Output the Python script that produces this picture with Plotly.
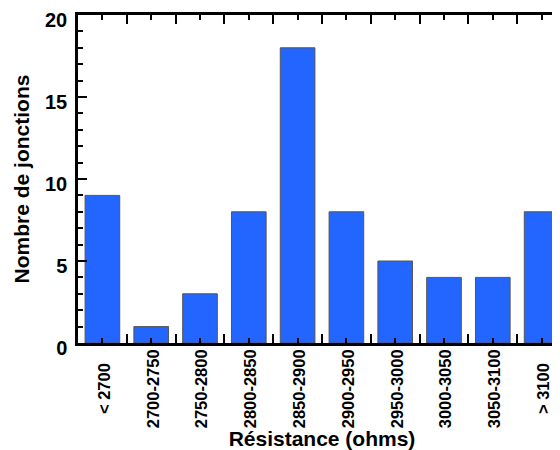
import plotly.graph_objects as go

categories = ["< 2700", "2700-2750", "2750-2800", "2800-2850", "2850-2900",
              "2900-2950", "2950-3000", "3000-3050", "3050-3100", "> 3100"]
counts = [9, 1, 3, 8, 18, 8, 5, 4, 4, 8]
y_ticks = [0, 5, 10, 15, 20]

x_pos = list(range(len(categories)))
boundaries = [i - 0.5 for i in range(len(categories) + 1)]

# centre the shorter rotated labels like the reference (pad with no-break spaces)
max_len = max(len(c) for c in categories)
tick_text = [c + "\u00a0" * (max_len - len(c)) for c in categories]

FONT = "Liberation Sans, Arial, sans-serif"

fig = go.Figure()
fig.add_trace(go.Bar(
    x=x_pos, y=counts, width=0.71,
    marker=dict(color="#2266FF", line=dict(color="#555555", width=1)),
))

# page body adds an 8px offset, so margins are reduced by 8px
fig.update_layout(
    width=558, height=442,
    margin=dict(l=70, r=0, t=7, b=107),
    paper_bgcolor="white", plot_bgcolor="white",
    showlegend=False,
    font=dict(family=FONT, color="black"),
)
fig.update_xaxes(
    automargin=False,
    range=[-0.5, 9.5],
    tickmode="array", tickvals=x_pos, ticktext=tick_text,
    tickangle=-90,
    tickfont=dict(size=16.5, family=FONT, weight="bold"),
    ticks="inside", ticklen=5, tickwidth=2, tickcolor="black",
    ticklabelstandoff=-3, ticklabelshift=2,
    minor=dict(tickmode="array", tickvals=boundaries, ticks="inside",
               ticklen=9, tickwidth=2, tickcolor="black"),
    showline=True, linewidth=2.5, linecolor="black", mirror="ticks",
    showgrid=False, zeroline=False,
    title=dict(text="<b>Résistance (ohms)</b>", font=dict(size=21, family=FONT), standoff=0),
)
fig.update_yaxes(
    automargin=False,
    range=[0, 20],
    tickmode="array", tickvals=y_ticks,
    tickfont=dict(size=20, family=FONT, weight="bold"),
    ticks="inside", ticklen=9, tickwidth=2, tickcolor="black",
    ticklabelstandoff=4, ticklabelshift=5, ticklabeloverflow="allow",
    minor=dict(dtick=1, ticks="inside", ticklen=5, tickwidth=2, tickcolor="black"),
    showline=True, linewidth=2.5, linecolor="black", mirror="ticks",
    showgrid=False, zeroline=False,
    title=dict(text="<b>Nombre de jonctions</b>", font=dict(size=21, family=FONT), standoff=10),
)

fig.write_html("out.html")
